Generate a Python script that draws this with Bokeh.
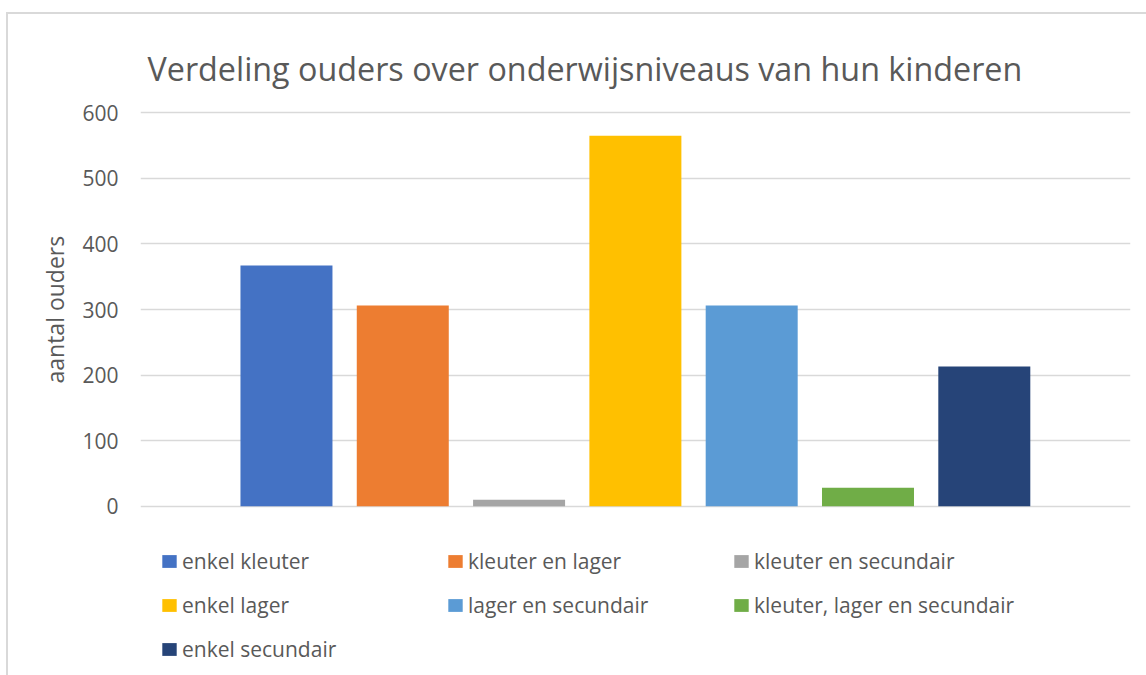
from bokeh.plotting import figure
from bokeh.models import Range1d, Legend, LegendItem, Title, Label
from bokeh.embed import file_html
from bokeh.resources import INLINE

# ---- data ----
series = ["enkel kleuter", "kleuter en lager", "kleuter en secundair",
          "enkel lager", "lager en secundair", "kleuter, lager en secundair",
          "enkel secundair"]
values = [367, 306, 10, 565, 306, 28, 213]
colors = ["#4472C4", "#ED7D31", "#A5A5A5", "#FFC000", "#5B9BD5", "#70AD47", "#264478"]
y_ticks = [0, 100, 200, 300, 400, 500, 600]
title_text = "Verdeling ouders over onderwijsniveaus van hun kinderen"
y_label = "aantal ouders"

TXT = "#595959"
FONT = "Open Sans"

# frame spans the full height; value axis 0..600 occupies pixels 112..506
p = figure(width=1146, height=675, output_backend="svg", toolbar_location=None,
           x_axis_location=None, x_range=Range1d(-1.255, 7.257),
           y_range=Range1d(-258.2, 771.3),
           min_border_left=140, min_border_right=16,
           min_border_top=0, min_border_bottom=0)
p.outline_line_color = None
p.background_fill_color = None
p.border_fill_color = None
p.styles = {
    "background-color": "white",
    "background-image": "linear-gradient(#d9d9d9, #d9d9d9), linear-gradient(#d9d9d9, #d9d9d9)",
    "background-size": "2px 670px, 1146px 2px",
    "background-position": "6px 12px, 6px 12px",
    "background-repeat": "no-repeat",
}

items = []
for i, (name, v, c) in enumerate(zip(series, values, colors)):
    r = p.vbar(x=[i], top=[v], bottom=0, width=0.791, fill_color=c, line_color=None)
    items.append(LegendItem(label=name, renderers=[r]))

# y axis
p.yaxis.ticker = y_ticks
p.yaxis.axis_line_color = None
p.yaxis.major_tick_line_color = None
p.yaxis.minor_tick_line_color = None
p.yaxis.major_tick_out = 0
p.yaxis.major_label_standoff = 22
p.yaxis.major_label_text_font = FONT
p.yaxis.major_label_text_font_size = "21px"
p.yaxis.major_label_text_color = TXT

# y axis title (left side, starting 292px above the frame bottom)
yt = Title(text=y_label, align="left", offset=292, standoff=18,
           text_font=FONT, text_font_size="23px", text_font_style="normal",
           text_color=TXT)
p.add_layout(yt, "left")

p.xgrid.grid_line_color = None
p.ygrid.ticker = y_ticks
p.ygrid.grid_line_color = "#D9D9D9"
p.ygrid.grid_line_width = 1.5

# chart title
t = Label(text=title_text, x=7, y=607.7, x_units="screen", y_units="screen",
          text_font=FONT, text_font_size="32.3px", text_font_style="normal",
          text_color=TXT, text_baseline="alphabetic", text_align="left")
p.add_layout(t)

# legend
legend = Legend(items=items, orientation="horizontal", ncols=3,
                location=(20, 12.5),
                glyph_width=18, glyph_height=16, label_standoff=4,
                label_width=248, label_height=20, spacing=16,
                padding=0, margin=0,
                label_text_font=FONT, label_text_font_size="21px",
                label_text_color=TXT,
                border_line_color=None, background_fill_alpha=0)
p.add_layout(legend, "center")

open("out.html", "w").write(file_html(p, INLINE))
